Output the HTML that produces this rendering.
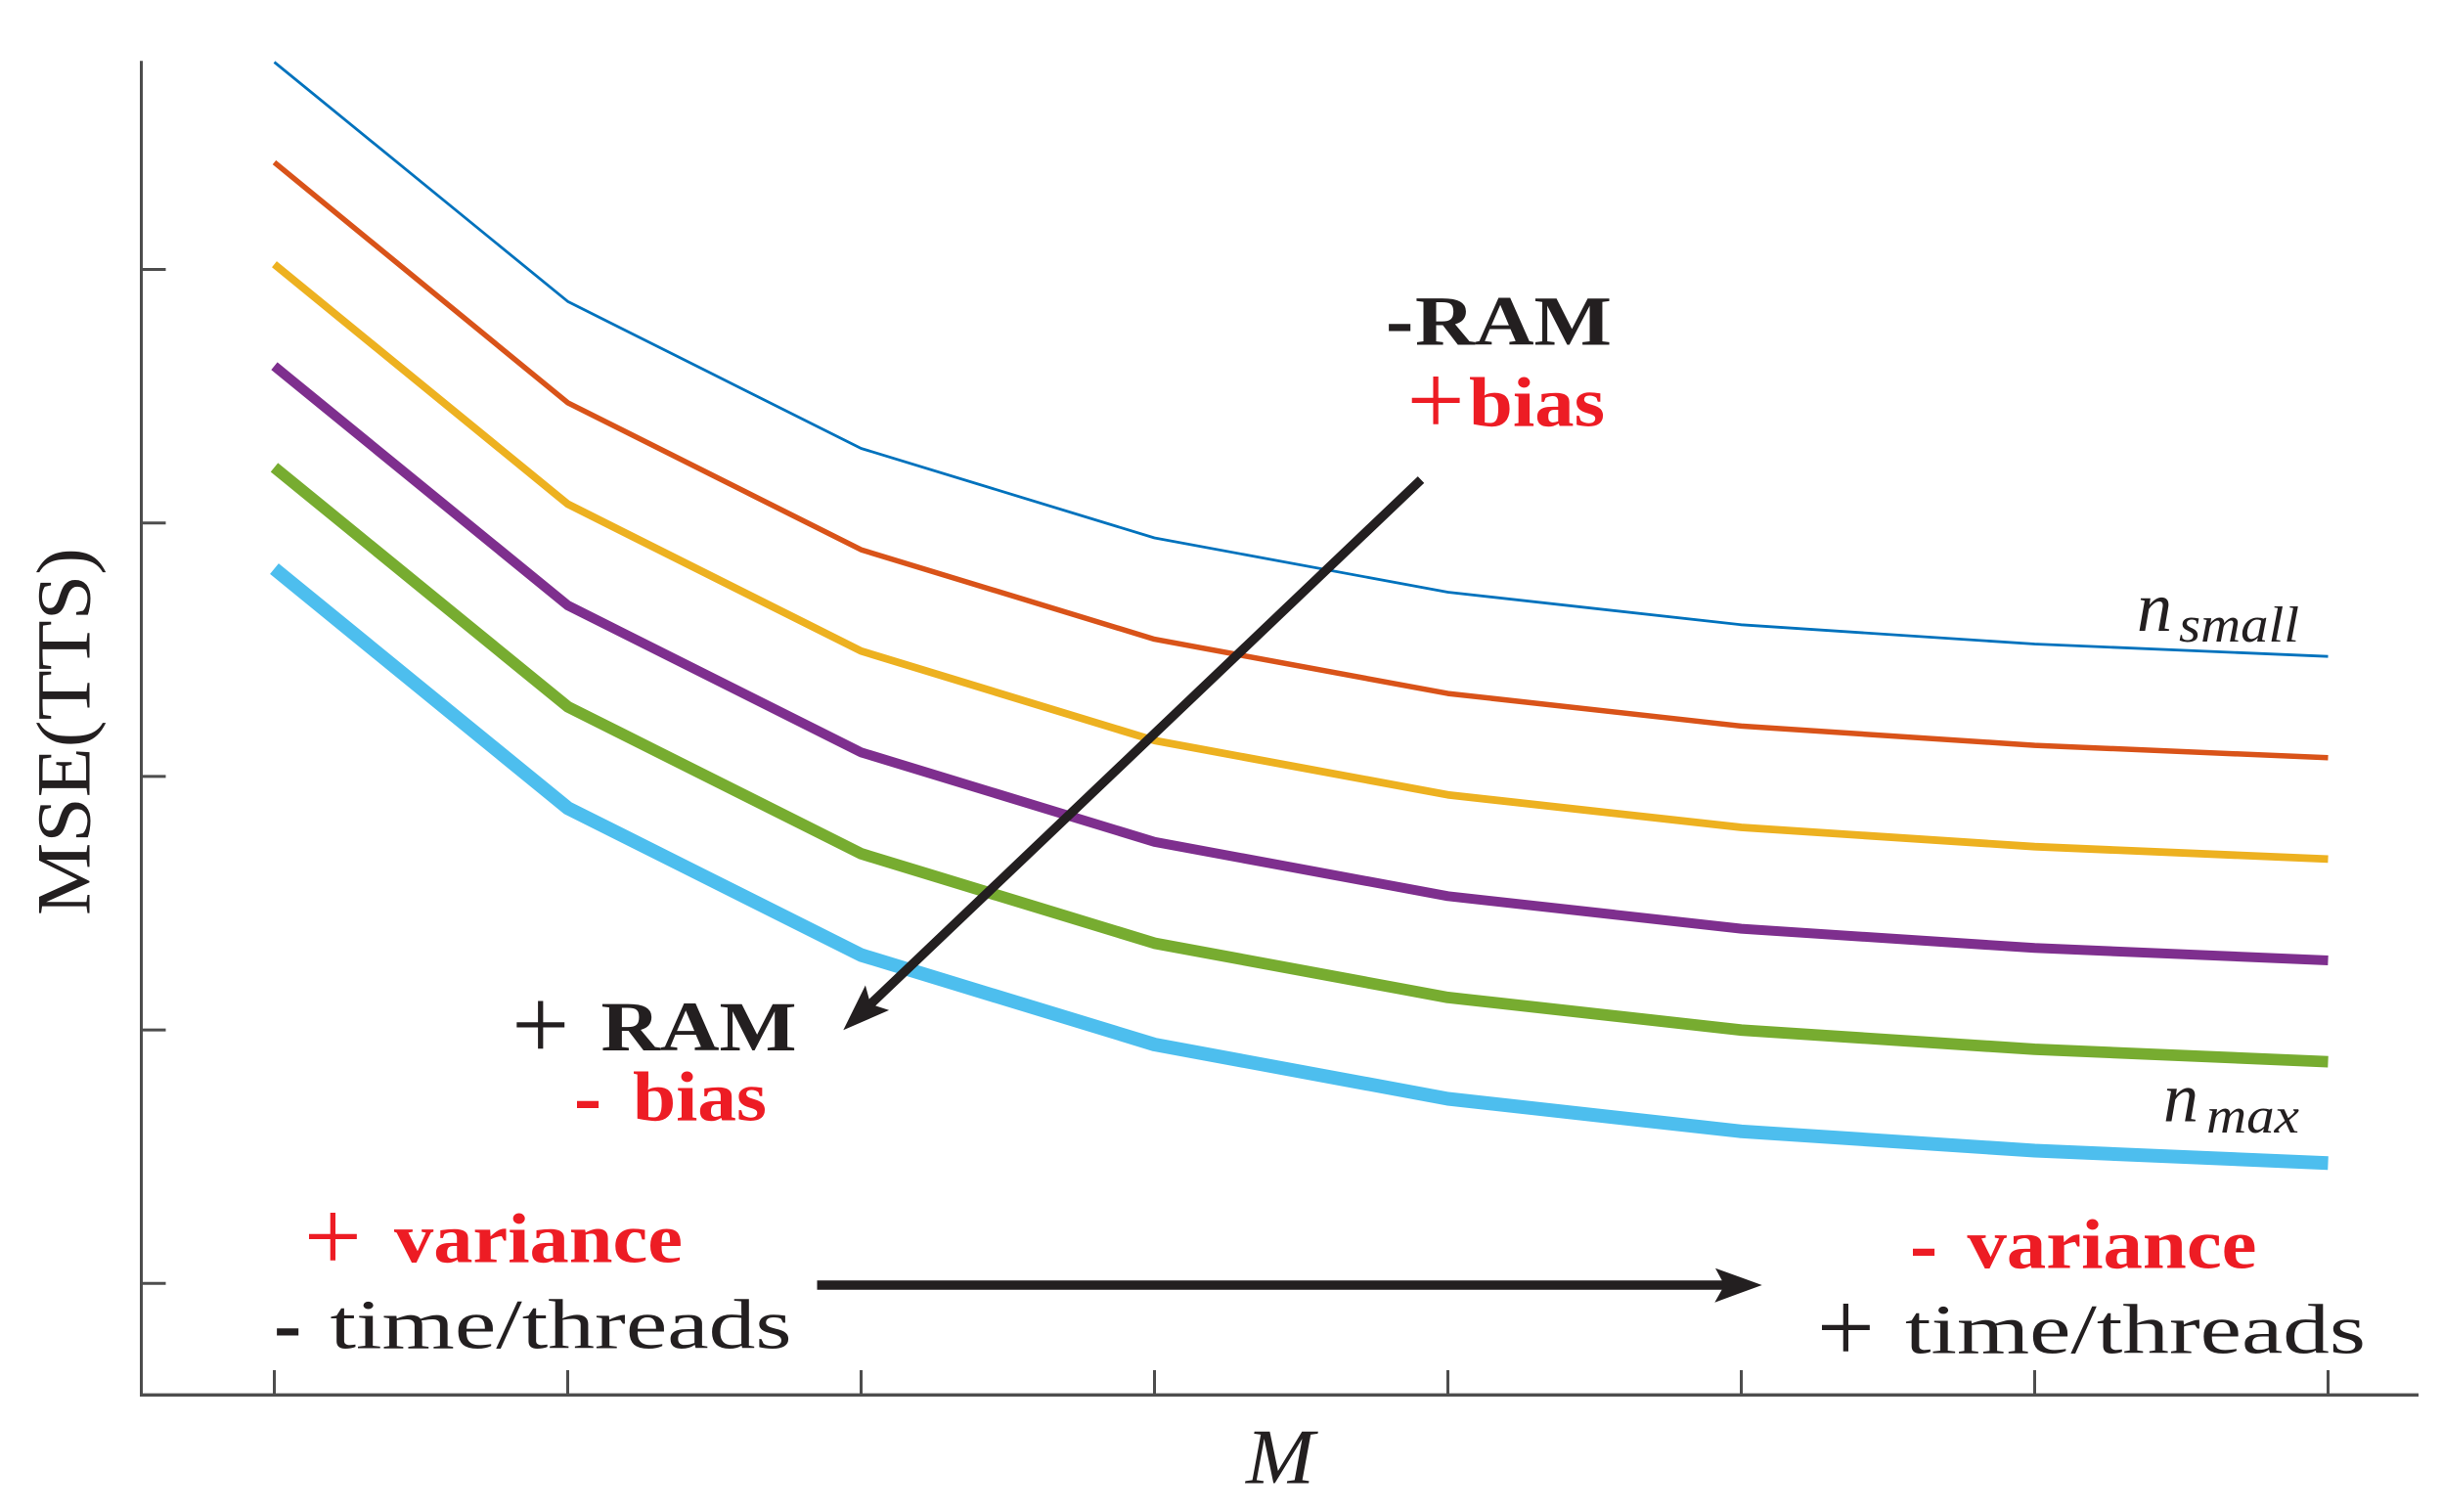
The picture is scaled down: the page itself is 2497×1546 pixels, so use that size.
<!DOCTYPE html>
<html>
<head>
<meta charset="utf-8">
<style>
html,body{margin:0;padding:0;background:#fff;}
svg{display:block;}
</style>
</head>
<body>
<svg width="2497" height="1546" viewBox="0 0 2497 1546" xmlns="http://www.w3.org/2000/svg">
<rect x="0" y="0" width="2497" height="1546" fill="#ffffff"/>

<!-- axes -->
<g stroke="#4d4d4d" fill="none" stroke-linecap="butt">
  <line x1="144.5" y1="62.3" x2="144.5" y2="1427.8" stroke-width="3"/>
  <line x1="143" y1="1426.3" x2="2473" y2="1426.3" stroke-width="3.4"/>
  <!-- y ticks -->
  <line x1="144.5" y1="275.5" x2="169.5" y2="275.5" stroke-width="3"/>
  <line x1="144.5" y1="534.7" x2="169.5" y2="534.7" stroke-width="3"/>
  <line x1="144.5" y1="793.9" x2="169.5" y2="793.9" stroke-width="3"/>
  <line x1="144.5" y1="1053.1" x2="169.5" y2="1053.1" stroke-width="3"/>
  <line x1="144.5" y1="1312.3" x2="169.5" y2="1312.3" stroke-width="3"/>
  <!-- x ticks -->
  <line x1="280.5" y1="1426" x2="280.5" y2="1401" stroke-width="3"/>
  <line x1="580.5" y1="1426" x2="580.5" y2="1401" stroke-width="3"/>
  <line x1="880.5" y1="1426" x2="880.5" y2="1401" stroke-width="3"/>
  <line x1="1180.5" y1="1426" x2="1180.5" y2="1401" stroke-width="3"/>
  <line x1="1480.5" y1="1426" x2="1480.5" y2="1401" stroke-width="3"/>
  <line x1="1780.5" y1="1426" x2="1780.5" y2="1401" stroke-width="3"/>
  <line x1="2080.5" y1="1426" x2="2080.5" y2="1401" stroke-width="3"/>
  <line x1="2380.5" y1="1426" x2="2380.5" y2="1401" stroke-width="3"/>
</g>

<!-- series -->
<g fill="none" stroke-linejoin="round" stroke-linecap="butt">
  <polyline stroke="#0072BD" stroke-width="2.8" points="280.5,63.5 580.5,308.2 880.5,458.5 1180.5,550 1480.5,605.5 1780.5,638.8 2080.5,658.5 2380.5,671.2"/>
  <polyline stroke="#D95319" stroke-width="5.5" points="280.5,166 580.5,411.8 880.5,562.1 1180.5,653.6 1480.5,709.1 1780.5,742.4 2080.5,762.1 2380.5,774.8"/>
  <polyline stroke="#EDB120" stroke-width="7.8" points="280.5,270.2 580.5,515.4 880.5,665.7 1180.5,757.2 1480.5,812.7 1780.5,846 2080.5,865.7 2380.5,878.4"/>
  <polyline stroke="#7E2F8E" stroke-width="10" points="280.5,374.3 580.5,619 880.5,769.3 1180.5,860.8 1480.5,916.3 1780.5,949.6 2080.5,969.3 2380.5,982"/>
  <polyline stroke="#77AC30" stroke-width="11.8" points="280.5,477.9 580.5,722.6 880.5,872.9 1180.5,964.4 1480.5,1019.9 1780.5,1053.2 2080.5,1072.9 2380.5,1085.6"/>
  <polyline stroke="#4DBEEE" stroke-width="14" points="280.5,581.5 580.5,826.2 880.5,976.5 1180.5,1068 1480.5,1123.5 1780.5,1156.8 2080.5,1176.5 2380.5,1189.2"/>
</g>

<!-- arrows -->
<g fill="#231F20" stroke="none">
  <line x1="1453" y1="490.5" x2="889" y2="1027.8" stroke="#231F20" stroke-width="9.4"/>
  <polygon points="862.3,1053.3 884.9,1007.5 890.1,1026.8 909.1,1032.9"/>
  <line x1="835.5" y1="1314" x2="1765" y2="1314" stroke="#231F20" stroke-width="9.4"/>
  <polygon points="1801.7,1314 1754,1296.7 1763.3,1314 1753.3,1331.7"/>
</g>

<!-- axis labels -->
<text transform="rotate(-90)" x="-748" y="91.7" text-anchor="middle" font-family="'Liberation Serif', serif" font-size="78" fill="#231F20" textLength="376" lengthAdjust="spacingAndGlyphs">MSE(TTS)</text>
<text x="1274" y="1516.7" font-family="'Liberation Serif', serif" font-style="italic" font-size="80" fill="#231F20" textLength="70" lengthAdjust="spacingAndGlyphs">M</text>

<!-- series labels -->
<g font-family="'Liberation Serif', serif" font-style="italic" fill="#231F20">
  <text x="2185" y="645" font-size="72" textLength="36" lengthAdjust="spacingAndGlyphs">n</text>
  <text x="2228" y="656" font-size="52" textLength="123" lengthAdjust="spacingAndGlyphs">small</text>
  <text x="2212" y="1146.7" font-size="72" textLength="36" lengthAdjust="spacingAndGlyphs">n</text>
  <text x="2256" y="1158" font-size="52" textLength="95" lengthAdjust="spacingAndGlyphs">max</text>
</g>

<!-- annotations: -RAM / +bias -->
<g font-family="'Liberation Serif', serif">
  <text x="1417" y="355.2" font-size="85" font-weight="bold" fill="#231F20">-</text>
  <text x="1447" y="352.7" font-size="72" font-weight="bold" fill="#231F20" textLength="201" lengthAdjust="spacingAndGlyphs">RAM</text>
  <text x="1438.5" y="444.3" font-size="105" fill="#ED1C24">+</text>
  <text x="1502" y="435.7" font-size="72" font-weight="bold" fill="#ED1C24" textLength="139" lengthAdjust="spacingAndGlyphs">bias</text>

  <!-- + RAM / - bias -->
  <text x="523.1" y="1083" font-size="105" fill="#231F20">+</text>
  <text x="614.5" y="1074" font-size="72" font-weight="bold" fill="#231F20" textLength="200" lengthAdjust="spacingAndGlyphs">RAM</text>
  <text x="586.9" y="1149.5" font-size="85" font-weight="bold" fill="#ED1C24">-</text>
  <text x="647" y="1145.7" font-size="72" font-weight="bold" fill="#ED1C24" textLength="137" lengthAdjust="spacingAndGlyphs">bias</text>

  <!-- + variance / - time/threads -->
  <text x="310.8" y="1299.3" font-size="105" fill="#ED1C24">+</text>
  <text x="403" y="1290.7" font-size="72" font-weight="bold" fill="#ED1C24" textLength="295" lengthAdjust="spacingAndGlyphs">variance</text>
  <text x="280" y="1381.8" font-size="85" font-weight="bold" fill="#231F20">-</text>
  <text x="337.5" y="1378.3" font-size="72" fill="#231F20" textLength="472" lengthAdjust="spacingAndGlyphs">time/threads</text>

  <!-- - variance / + time/threads -->
  <text x="1952.9" y="1300.5" font-size="85" font-weight="bold" fill="#ED1C24">-</text>
  <text x="2011.5" y="1296.7" font-size="72" font-weight="bold" fill="#ED1C24" textLength="296" lengthAdjust="spacingAndGlyphs">variance</text>
  <text x="1857.8" y="1392.3" font-size="105" fill="#231F20">+</text>
  <text x="1948" y="1383.3" font-size="72" fill="#231F20" textLength="471" lengthAdjust="spacingAndGlyphs">time/threads</text>
</g>
</svg>
</body>
</html>
